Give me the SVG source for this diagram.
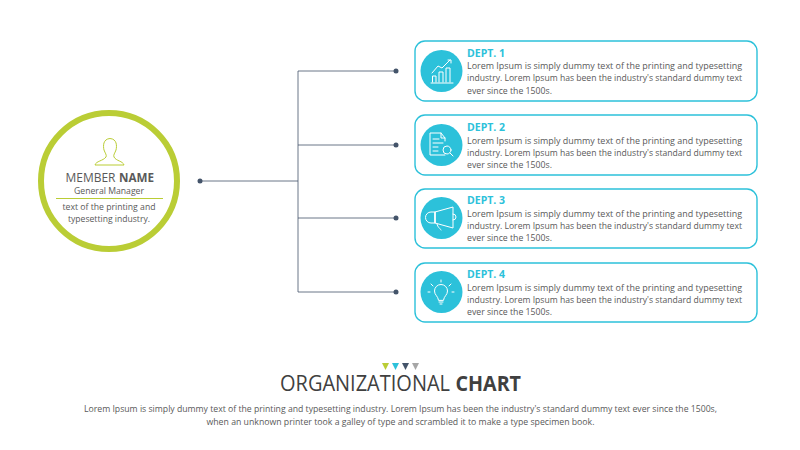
<svg xmlns="http://www.w3.org/2000/svg" width="800" height="450" viewBox="0 0 800 450">
<defs>
<style>
text{font-family:"Open Sans","Liberation Sans",sans-serif;fill:#595959}
.card{fill:#fff;stroke:#2cc1da;stroke-width:1.4}
.disc{fill:#2cc1da}
.t{font-size:10.5px;font-weight:700;fill:#2cc1da}
.b{font-size:8.6px}
.ic{fill:none;stroke:#fff;stroke-width:1;stroke-linecap:round;stroke-linejoin:round}
.ln{fill:none;stroke:#44546a;stroke-width:.8}
.dot{fill:#44546a}
</style>
</defs>
<rect width="800" height="450" fill="#fff"/>
<g id="connectors">
<path class="ln" d="M200 181H298M298 71V292M298 71H396M298 145H396M298 218H396M298 292H396"/>
<circle class="dot" cx="200" cy="181" r="2.500"/>
<circle class="dot" cx="396" cy="71" r="2.500"/>
<circle class="dot" cx="396" cy="145" r="2.500"/>
<circle class="dot" cx="396" cy="218" r="2.500"/>
<circle class="dot" cx="396" cy="292" r="2.500"/>
</g>
<g id="manager">
<circle cx="109" cy="181" r="68" fill="#fff" stroke="#bacd35" stroke-width="6"/>
<path d="M95 165C96 161 103 161 106 157C107 155 105 153 104 150C103 146 103 139 110 138.500C117 139 117 146 116 150C115 153 113 155 114 157C116 161 123 161 124 165Z" fill="none" stroke="#bacd35" stroke-width="1"/>
<text x="65.500" y="181.500" font-size="12" textLength="50" lengthAdjust="spacingAndGlyphs">MEMBER</text>
<text x="119" y="181.500" font-size="12" font-weight="700" textLength="35" lengthAdjust="spacingAndGlyphs">NAME</text>
<text x="109" y="193.500" text-anchor="middle" font-size="8.500" textLength="70" lengthAdjust="spacingAndGlyphs">General Manager</text>
<path d="M56 198.500H163" stroke="#bacd35" stroke-width="1"/>
<text x="109" y="210" text-anchor="middle" font-size="8.800" textLength="93" lengthAdjust="spacingAndGlyphs">text of the printing and</text>
<text x="109" y="222" text-anchor="middle" font-size="8.800" textLength="82" lengthAdjust="spacingAndGlyphs">typesetting industry.</text>
</g>
<g id="dept1">
<rect class="card" x="415" y="41" width="342" height="60" rx="10"/>
<circle class="disc" cx="441.500" cy="71" r="21"/>
<path class="ic" d="M431 83H453M432.500 82V76H436V82M439 82V72H443V82M446 82V68H450V82M432 73L438 66L442 68L450 60M448 60H451V63"/>
<text class="t" x="467" y="56.500">DEPT. 1</text>
<text class="b" x="467" y="68.500" textLength="275" lengthAdjust="spacingAndGlyphs">Lorem Ipsum is simply dummy text of the printing and typesetting</text>
<text class="b" x="467" y="81" textLength="275" lengthAdjust="spacingAndGlyphs">industry. Lorem Ipsum has been the industry's standard dummy text</text>
<text class="b" x="467" y="93.500" textLength="85" lengthAdjust="spacingAndGlyphs">ever since the 1500s.</text>
</g>
<g id="dept2">
<rect class="card" x="415" y="115" width="342" height="60" rx="10"/>
<circle class="disc" cx="441.500" cy="145" r="21"/>
<path class="ic" d="M445 155H430V133H441L445 138V141M441 133V138H445M433 139H439M433 143H443M433 147H438M433 151H438"/>
<circle class="ic" cx="447" cy="150" r="4"/>
<path class="ic" d="M450 153L453 156"/>
<text class="t" x="467" y="130.500">DEPT. 2</text>
<text class="b" x="467" y="143.500" textLength="275" lengthAdjust="spacingAndGlyphs">Lorem Ipsum is simply dummy text of the printing and typesetting</text>
<text class="b" x="467" y="155.500" textLength="275" lengthAdjust="spacingAndGlyphs">industry. Lorem Ipsum has been the industry's standard dummy text</text>
<text class="b" x="467" y="167.500" textLength="85" lengthAdjust="spacingAndGlyphs">ever since the 1500s.</text>
</g>
<g id="dept3">
<rect class="card" x="415" y="189" width="342" height="59" rx="10"/>
<circle class="disc" cx="441.500" cy="218" r="21"/>
<path class="ic" d="M435 212H431A5.500 5.500 0 0 0 431 223H435ZM435 212L453 207V228L435 223ZM453 214A3 3 0 0 1 453 220M437 224C438 228 440 228 441 230"/>
<text class="t" x="467" y="203.500">DEPT. 3</text>
<text class="b" x="467" y="216.500" textLength="275" lengthAdjust="spacingAndGlyphs">Lorem Ipsum is simply dummy text of the printing and typesetting</text>
<text class="b" x="467" y="228.500" textLength="275" lengthAdjust="spacingAndGlyphs">industry. Lorem Ipsum has been the industry's standard dummy text</text>
<text class="b" x="467" y="240.500" textLength="85" lengthAdjust="spacingAndGlyphs">ever since the 1500s.</text>
</g>
<g id="dept4">
<rect class="card" x="415" y="263" width="342" height="59" rx="10"/>
<circle class="disc" cx="441.500" cy="292" r="21"/>
<path class="ic" d="M438.500 300C438 296 434.500 295 434.500 291A6.500 6.500 0 0 1 447.500 291C447.500 295 444 296 443.500 300ZM439 302H443M440 304H442M441 280V282M431 284L433 286M451 284L449 286M430 292H428M452 292H454"/>
<text class="t" x="467" y="277.500">DEPT. 4</text>
<text class="b" x="467" y="290.500" textLength="275" lengthAdjust="spacingAndGlyphs">Lorem Ipsum is simply dummy text of the printing and typesetting</text>
<text class="b" x="467" y="302.500" textLength="275" lengthAdjust="spacingAndGlyphs">industry. Lorem Ipsum has been the industry's standard dummy text</text>
<text class="b" x="467" y="314.500" textLength="85" lengthAdjust="spacingAndGlyphs">ever since the 1500s.</text>
</g>
<g id="markers">
<path d="M382 363H389L385.500 370Z" fill="#bacd35"/>
<path d="M392 363H399L395.500 370Z" fill="#2cc1da"/>
<path d="M402 363H409L405.500 370Z" fill="#44546a"/>
<path d="M412 363H419L415.500 370Z" fill="#a6a6a6"/>
</g>
<g id="footer">
<text x="280" y="391" font-size="21" textLength="170" lengthAdjust="spacingAndGlyphs" style="fill:#404040">ORGANIZATIONAL</text>
<text x="455.500" y="391" font-size="21" font-weight="700" textLength="65.500" lengthAdjust="spacingAndGlyphs" style="fill:#404040">CHART</text>
<text x="400.500" y="412" text-anchor="middle" font-size="8.800" textLength="633" lengthAdjust="spacingAndGlyphs">Lorem Ipsum is simply dummy text of the printing and typesetting industry. Lorem Ipsum has been the industry's standard dummy text ever since the 1500s,</text>
<text x="400.500" y="425" text-anchor="middle" font-size="8.800" textLength="388" lengthAdjust="spacingAndGlyphs">when an unknown printer took a galley of type and scrambled it to make a type specimen book.</text>
</g>
</svg>
